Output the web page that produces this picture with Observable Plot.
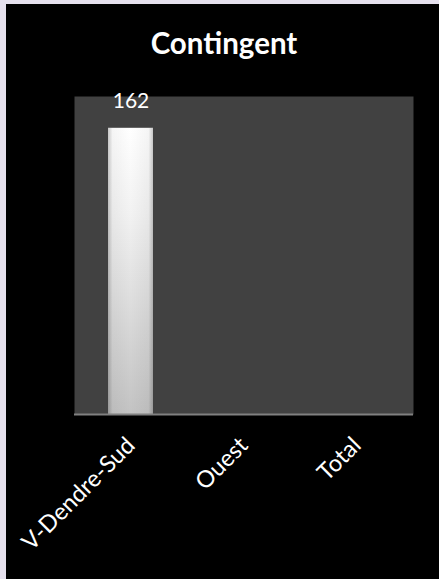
<!DOCTYPE html>
<html>
<head>
<meta charset="utf-8">
<script src="https://cdn.jsdelivr.net/npm/d3@7"></script>
<script src="https://cdn.jsdelivr.net/npm/@observablehq/plot@0.6"></script>
<style>
  html, body { margin: 0; padding: 0; background: #e6e1ee; }
  #card { position: absolute; left: 6px; top: 4px; width: 433px; height: 575px; background: #000; overflow: hidden; }
  #title { position: absolute; left: 0; top: 21px; width: 436px; text-align: center; font-family: Lato, sans-serif; font-weight: bold; font-size: 29.5px; color: #fff; line-height: normal; }
  #chart { position: absolute; left: 0; top: 80px; }
  #chart svg { display: block; background: transparent; }
</style>
</head>
<body>
<div id="card">
  <div id="title">Contingent</div>
  <div id="chart"></div>
</div>
<script>
const categories = ["V-Dendre-Sud", "Ouest", "Total"];
const values = [162, null, null];
const yMax = 180;

const data = categories.map((c, i) => ({category: c, value: values[i]}));
const barData = data.filter(d => d.value != null);

const defs = () => {
  const ns = "http://www.w3.org/2000/svg";
  const d = document.createElementNS(ns, "defs");
  d.innerHTML = `
    <linearGradient id="barV" x1="0" y1="0" x2="0" y2="1">
      <stop offset="0" stop-color="#ffffff"/>
      <stop offset="0.3" stop-color="#f2f2f2"/>
      <stop offset="1" stop-color="#c3c3c3"/>
    </linearGradient>
    <linearGradient id="barH" x1="0" y1="0" x2="1" y2="0">
      <stop offset="0" stop-color="#000" stop-opacity="0.22"/>
      <stop offset="0.1" stop-color="#000" stop-opacity="0.04"/>
      <stop offset="0.5" stop-color="#000" stop-opacity="0"/>
      <stop offset="0.9" stop-color="#000" stop-opacity="0.04"/>
      <stop offset="1" stop-color="#000" stop-opacity="0.22"/>
    </linearGradient>`;
  return d;
};

const chart = Plot.plot({
  width: 433,
  height: 495,
  marginLeft: 68,
  marginRight: 26,
  marginTop: 12,
  marginBottom: 165,
  style: {background: "transparent", color: "#fff"},
  x: {domain: categories, paddingInner: 0.6, paddingOuter: 0.3, axis: null},
  y: {domain: [0, yMax], axis: null},
  marks: [
    defs,
    Plot.frame({fill: "#414141", stroke: "none"}),
    Plot.barY(barData, {x: "category", y: "value", fill: "url(#barV)"}),
    Plot.barY(barData, {x: "category", y: "value", fill: "url(#barH)"}),
    Plot.ruleY([0], {stroke: "#808080", strokeWidth: 2}),
    Plot.text(barData, {x: "category", y: "value", text: d => String(d.value), dy: -27, fill: "#fff", fontSize: 21, fontFamily: "Lato, sans-serif"}),
    Plot.text(data, {x: "category", y: 0, text: "category", rotate: -45, textAnchor: "end", dy: 27, dx: 0, fill: "#fff", fontSize: 23.5, fontFamily: "Lato, sans-serif"})
  ]
});
document.getElementById("chart").appendChild(chart);
</script>
</body>
</html>
